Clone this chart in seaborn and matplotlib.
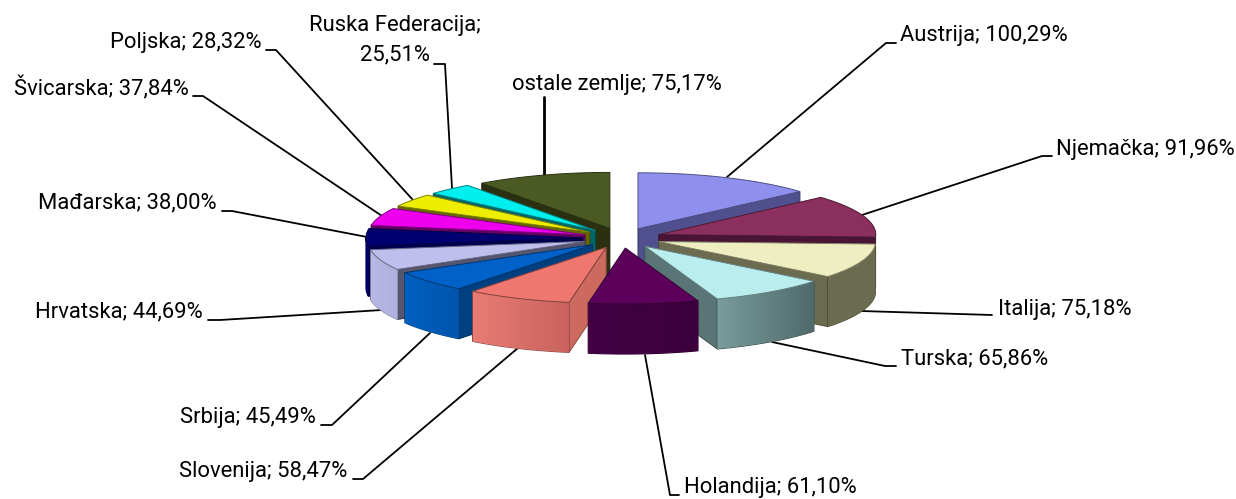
import numpy as np
import matplotlib
matplotlib.use("Agg")
import matplotlib.pyplot as plt
from matplotlib.colors import to_rgb
from matplotlib.patches import Polygon
import seaborn as sns

# ---- data -------------------------------------------------------------
countries = ["Austrija", "Njemačka", "Italija", "Turska", "Holandija", "Slovenija", "Srbija",
             "Hrvatska", "Mađarska", "Švicarska", "Poljska", "Ruska Federacija", "ostale zemlje"]
shares = [100.29, 91.96, 75.18, 65.86, 61.10, 58.47, 45.49, 44.69, 38.00, 37.84, 28.32, 25.51, 75.17]
value_texts = ["100,29%", "91,96%", "75,18%", "65,86%", "61,10%", "58,47%", "45,49%",
               "44,69%", "38,00%", "37,84%", "28,32%", "25,51%", "75,17%"]

# ---- style ------------------------------------------------------------
top_colors = ["#8F8FEE", "#8B2F5F", "#EEEEC0", "#BAEDED", "#5C005C", "#EE7870", "#0062C8",
              "#BFBFEE", "#000070", "#EE00EE", "#EEEE00", "#00EEEE", "#4B5A22"]
face_colors = ["#50508F", "#4A1535", "#6B6B50", "#5A7575", "#3F003F", "#CC6A60", "#003F80",
               "#555570", "#000050", "#660066", "#666600", "#006666", "#2A3010"]
wall_left = ["#50508F", "#4A1535", "#6B6B50", "#7A9C9C", "#430043", "#E87C74", "#0060C0",
             "#B8B8E6", "#000070", "#660066", "#666600", "#006666", "#2A3010"]
wall_right = ["#50508F", "#4A1535", "#6B6B50", "#4F6A6A", "#3C003C", "#C9625E", "#0054AC",
              "#B0B0DC", "#000070", "#660066", "#666600", "#006666", "#2A3010"]

CX, CY, RX, RY, DEPTH, EXPLODE = 622, 238, 217, 56, 50, 0.18

label_anchor = [(900, 35, "left"), (1056, 149, "left"), (998, 309, "left"), (901, 359, "left"),
                (684, 488, "left"), (347, 472, "right"), (316, 418, "right"), (203, 312, "right"),
                (217, 203, "right"), (189, 88, "right"), (262, 42, "right"), (395, 40, "center"),
                (512, 84, "left")]
leaders = [[(727, 177), (886, 43), (896, 43)],
           [(862, 215), (1042, 156), (1052, 156)],
           [(861, 311), (992, 315)],
           [(772, 342), (885, 366), (896, 366)],
           [(645, 355), (670, 495), (679, 495)],
           [(518, 348), (363, 479), (353, 479)],
           [(430, 333), (332, 425), (321, 425)],
           [(382, 310), (220, 320), (208, 320)],
           [(367, 237), (232, 211), (222, 211)],
           [(382, 216), (203, 96), (193, 96)],
           [(413, 200), (276, 50), (266, 50)],
           [(452, 188), (445, 64), (434, 64)],
           [(544, 175), (544, 97)]]
leader_width = [1.3] * 12 + [2.0]

# ---- drawing ----------------------------------------------------------
sns.set_theme(style="white")
plt.rcParams["font.family"] = ["Roboto", "Liberation Sans", "DejaVu Sans"]
font_size = 15.8

fig = plt.figure(figsize=(12.36, 4.99), dpi=100, facecolor="white")
ax = fig.add_axes([0, 0, 1, 1])


def project(ox, oy, theta):
    return ox + RX * np.sin(theta), oy - RY * np.cos(theta)


def darker(c, f=0.6):
    return tuple(v * f for v in to_rgb(c))


edges = np.concatenate([[0], np.cumsum(shares)]) / np.sum(shares) * 2 * np.pi
mids = (edges[:-1] + edges[1:]) / 2
for i in np.argsort(-np.cos(mids)):
    a0, a1, m = edges[i], edges[i + 1], mids[i]
    ox = CX + EXPLODE * RX * np.sin(m)
    oy = CY - EXPLODE * RY * np.cos(m)
    z = 10 + (1 - np.cos(m))
    edge = darker(top_colors[i], 0.55)
    for ang, vis in ((a0, np.sin(a0) < -1e-6), (a1, np.sin(a1) > 1e-6)):
        if vis:
            x, y = project(ox, oy, ang)
            ax.add_patch(Polygon([(ox, oy), (x, y), (x, y + DEPTH), (ox, oy + DEPTH)],
                                 fc=face_colors[i], ec=darker(face_colors[i], 0.7), lw=0.7, zorder=z))
    w0, w1 = max(a0, np.pi / 2), min(a1, 3 * np.pi / 2)
    if w1 - w0 > np.radians(5):
        tt = np.linspace(w0, w1, 40)
        xs, ys = project(ox, oy, tt)
        outline = list(zip(xs, ys)) + list(zip(xs[::-1], ys[::-1] + DEPTH))
        clip = Polygon(outline, fill=False, ec=darker(wall_right[i], 0.7), lw=0.8, zorder=z)
        ax.add_patch(clip)
        grad = np.linspace(to_rgb(wall_left[i]), to_rgb(wall_right[i]), 64)[None, :, :]
        im = ax.imshow(grad, extent=(xs.min(), xs.max(), ys.max() + DEPTH, ys.min()),
                       aspect="auto", interpolation="bilinear", zorder=z)
        im.set_clip_path(clip)
    tt = np.linspace(a0, a1, 40)
    xs, ys = project(ox, oy, tt)
    ax.add_patch(Polygon([(ox, oy)] + list(zip(xs, ys)), fc=top_colors[i], ec=edge, lw=0.7, zorder=z))

for pts, w in zip(leaders, leader_width):
    px, py = zip(*pts)
    sns.lineplot(x=list(px), y=list(py), sort=False, estimator=None, color="black", lw=w, ax=ax, zorder=1)

for name, val, (x, y, ha) in zip(countries, value_texts, label_anchor):
    sep = ";\n" if name.startswith("Ruska") else "; "
    ax.text(x, y, f"{name}{sep}{val}", ha=ha, va="center", fontsize=font_size,
            color="black", linespacing=1.5, multialignment="center", zorder=30)

ax.set_xlim(0, 1236)
ax.set_ylim(499, 0)
ax.set_xlabel("")
ax.set_ylabel("")
ax.axis("off")
fig.savefig("out.png", dpi=100, facecolor="white")
